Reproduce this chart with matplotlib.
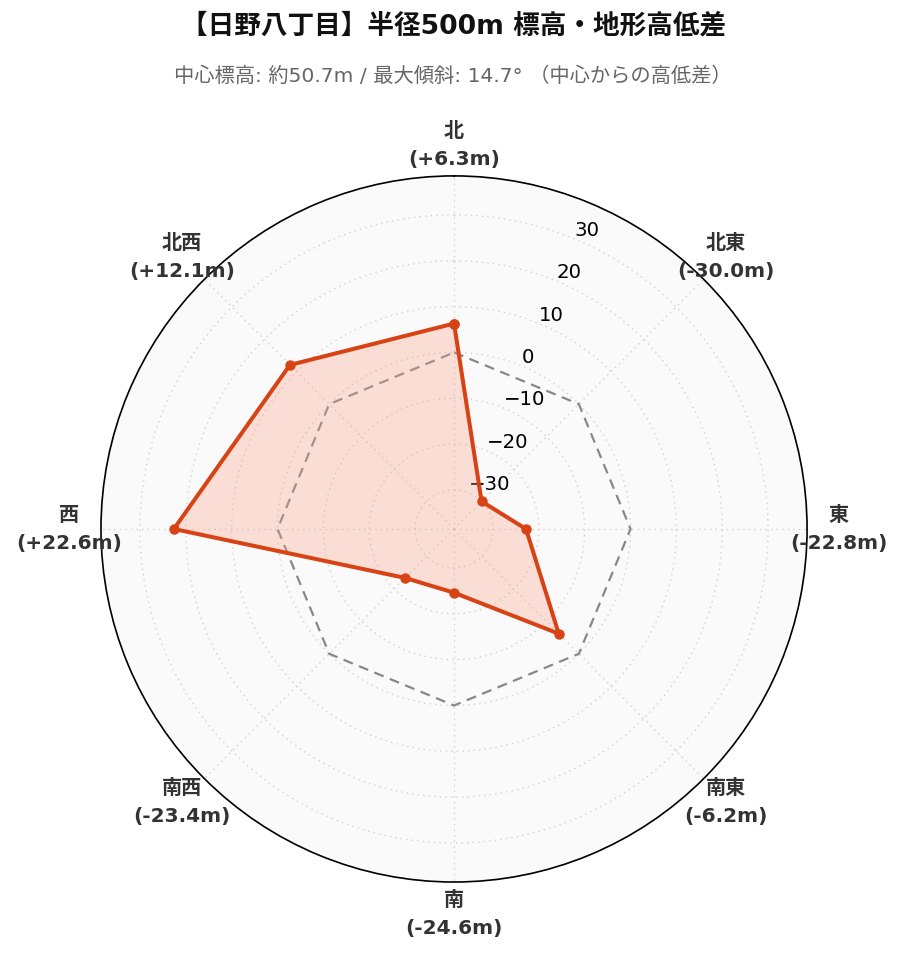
import numpy as np
import matplotlib
matplotlib.use("Agg")
import matplotlib.pyplot as plt

plt.rcParams['font.family'] = ['DejaVu Sans', 'Noto Sans CJK JP']

directions = ["北", "北東", "東", "南東", "南", "南西", "西", "北西"]
diffs = [6.3, -30.0, -22.8, -6.2, -24.6, -23.4, 22.6, 12.1]
rticks = [-30, -20, -10, 0, 10, 20, 30]
rlim = 38.5

title = "【日野八丁目】半径500m 標高・地形高低差"
subtitle = "中心標高: 約50.7m / 最大傾斜: 14.7° （中心からの高低差）"

fig = plt.figure(figsize=(9.03, 9.62), dpi=100)
ax = fig.add_axes([0.1118, 0.0821, 0.782, 0.734], projection='polar')
ax.set_theta_zero_location('N')
ax.set_theta_direction(-1)
ax.set_facecolor('#fafafa')

angles = np.deg2rad(np.arange(len(directions)) * 45.0)
ang_c = np.concatenate([angles, angles[:1]])
val_c = np.concatenate([diffs, diffs[:1]])

ax.set_ylim(-rlim, rlim)
ax.plot(ang_c, np.zeros_like(ang_c), linestyle='--', color='#888888', linewidth=1.6, dashes=(4.5, 3), zorder=2)
ax.fill(ang_c, val_c, color='#fa9f85', alpha=0.3, zorder=3, linewidth=0)
ax.plot(ang_c, val_c, color='#d84315', linewidth=2.9, marker='o', markersize=6.5, zorder=4)

ax.set_yticks(rticks)
ax.set_yticklabels([f"{t}".replace('-', '\u2212') for t in rticks], fontsize=14.2)
ax.set_rlabel_position(22.5)
ax.set_xticks(angles)
ax.set_xticklabels([])
ax.grid(True, color='#d0d0d0', linestyle=(0, (1, 3)), linewidth=1.0)
ax.spines['polar'].set_color('black')
ax.spines['polar'].set_linewidth(1.2)

label_r = rlim + 32 / 4.6
for a, d, v in zip(angles, directions, diffs):
    ax.text(a, label_r, f"{d}\n({v:+.1f}m)", ha='center', va='center', fontsize=14.5,
            fontweight='bold', color='#333333', linespacing=1.6)

fig.text(0.502, 0.972, title, ha='center', va='center', fontsize=19.2, fontweight='bold', color='#111111')
fig.text(0.502, 0.921, subtitle, ha='center', va='center', fontsize=14.6, color='#666666')

fig.savefig('out.png', dpi=100, facecolor='white')
